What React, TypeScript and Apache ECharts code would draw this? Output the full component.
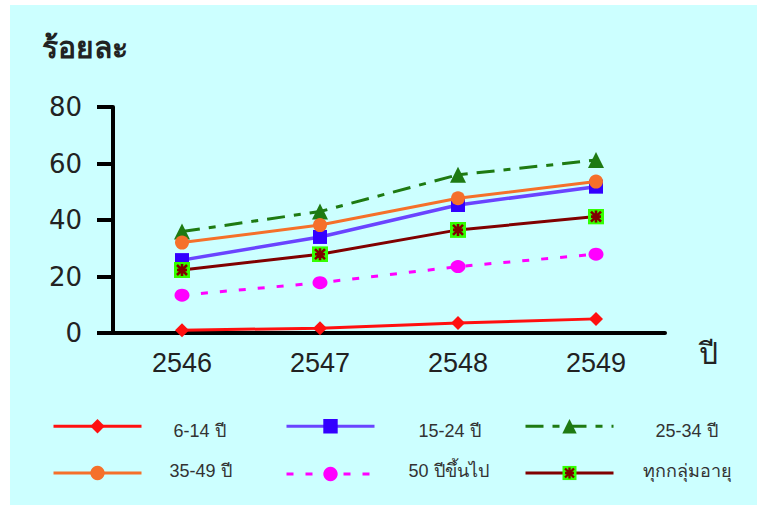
import React, { useEffect, useRef } from "react";
import * as echarts from "echarts";

const years = ["2546", "2547", "2548", "2549"];
const yTicks = [0, 20, 40, 60, 80];
const age6to14 = [1.0, 1.7, 3.5, 5.0];
const age15to24 = [25.8, 34.0, 45.3, 51.8];
const age25to34 = [35.9, 43.0, 56.0, 61.2];
const age35to49 = [32.0, 38.2, 47.7, 53.6];
const age50plus = [13.4, 17.8, 23.5, 27.9];
const ageAll = [22.3, 27.9, 36.5, 41.2];
const seriesNames = ["6-14 ปี", "15-24 ปี", "25-34 ปี", "35-49 ปี", "50 ปีขึ้นไป", "ทุกกลุ่มอายุ"];

const allAgeSvg =
  '<svg xmlns="http://www.w3.org/2000/svg" width="16" height="16" viewBox="0 0 16 16">' +
  '<rect x="0" y="0" width="16" height="16" fill="#33ff00"/>' +
  '<path d="M3 3 L13 13 M13 3 L3 13 M8 2 L8 14 M3 8 L13 8" stroke="#800000" stroke-width="2.6" fill="none"/>' +
  "</svg>";
const allAgeSymbol = "image://data:image/svg+xml;charset=utf-8," + encodeURIComponent(allAgeSvg);

const FONT = "'Liberation Sans', Arial, 'Noto Sans', sans-serif";

export default function App() {
  const ref = useRef<HTMLDivElement>(null);
  useEffect(() => {
    if (!ref.current) return;
    const chart = echarts.init(ref.current, null, { renderer: "svg" });

    const legendCfg = (name: string, left: number, top: number, padLeft: number, padTop: number, padBottom: number) => ({
      data: [name],
      left,
      top,
      itemWidth: 88,
      itemHeight: 18,
      padding: 0,
      selectedMode: false,
      lineStyle: { width: 3 },
      formatter: "{t|{name}}",
      textStyle: {
        fontFamily: FONT,
        fontSize: 18,
        color: "#333",
        padding: [padTop, 0, padBottom, padLeft],
        rich: {
          t: { fontFamily: FONT, fontSize: 18, color: "#333" },
        },
      },
    });

    chart.setOption({
      animation: false,
      backgroundColor: "#ffffff",
      textStyle: { fontFamily: FONT },
      graphic: [
        {
          type: "rect",
          z: -100,
          silent: true,
          shape: { x: 10, y: 5, width: 747, height: 500 },
          style: { fill: "#ccffff" },
        },
        {
          type: "text",
          left: 42,
          top: 32,
          style: { text: "ร้อยละ", fontSize: 30, fontWeight: "bold", fill: "#222", fontFamily: FONT },
        },
        {
          type: "text",
          left: 699,
          top: 338,
          style: { text: "ปี", fontSize: 30, fill: "#222", fontFamily: FONT },
        },
      ],
      grid: { left: 113, right: 92, top: 107, bottom: 172, containLabel: false },
      xAxis: {
        type: "category",
        data: years,
        boundaryGap: true,
        axisLine: { show: true, lineStyle: { color: "#000", width: 4 } },
        axisTick: { show: false },
        axisLabel: { fontSize: 27, color: "#222", margin: 16, fontFamily: FONT },
        splitLine: { show: false },
      },
      yAxis: {
        type: "value",
        min: yTicks[0],
        max: yTicks[yTicks.length - 1],
        interval: 20,
        axisLine: { show: true, lineStyle: { color: "#000", width: 4 } },
        axisTick: { show: true, inside: false, length: 16, lineStyle: { color: "#000", width: 4 } },
        axisLabel: { fontSize: 26, color: "#222", margin: 31, fontFamily: "'DejaVu Sans', sans-serif" },
        splitLine: { show: false },
      },
      legend: [
        legendCfg(seriesNames[0], 52, 419, 27, 10, 0),
        legendCfg(seriesNames[1], 285, 419, 39, 10, 0),
        legendCfg(seriesNames[2], 524, 419, 37, 10, 0),
        legendCfg(seriesNames[3], 52, 462, 23, 0, 4),
        legendCfg(seriesNames[4], 285, 462, 29, 0, 6),
        legendCfg(seriesNames[5], 524, 462, 24, 0, 4),
      ],
      series: [
        {
          name: seriesNames[0],
          type: "line",
          data: age6to14,
          symbol: "diamond",
          symbolSize: 14,
          itemStyle: { color: "#ff1010" },
          lineStyle: { color: "#ff1010", width: 3 },
          z: 3,
        },
        {
          name: seriesNames[1],
          type: "line",
          data: age15to24,
          symbol: "rect",
          symbolSize: 14,
          itemStyle: { color: "#3300ff" },
          lineStyle: { color: "#6a44ff", width: 3.5 },
          z: 3,
        },
        {
          name: seriesNames[2],
          type: "line",
          data: age25to34,
          symbol: "triangle",
          symbolSize: 16,
          itemStyle: { color: "#1e7a12" },
          lineStyle: { color: "#1e7a12", width: 3, type: [18, 9, 7, 9] },
          z: 3,
        },
        {
          name: seriesNames[3],
          type: "line",
          data: age35to49,
          symbol: "circle",
          symbolSize: 14,
          itemStyle: { color: "#f5702a" },
          lineStyle: { color: "#f5702a", width: 3 },
          z: 4,
        },
        {
          name: seriesNames[4],
          type: "line",
          data: age50plus,
          symbol: "circle",
          symbolSize: [15, 13],
          itemStyle: { color: "#ff00ff" },
          lineStyle: { color: "#ff00ff", width: 3, type: [7, 12] },
          z: 3,
        },
        {
          name: seriesNames[5],
          type: "line",
          data: ageAll,
          symbol: allAgeSymbol,
          symbolSize: 16,
          itemStyle: { color: "#800000" },
          lineStyle: { color: "#800000", width: 3 },
          z: 3,
        },
      ],
    });
    return () => chart.dispose();
  }, []);
  return (
    <div
      ref={ref}
      style={{ position: "absolute", left: 0, top: 0, width: 757, height: 505 }}
    />
  );
}
